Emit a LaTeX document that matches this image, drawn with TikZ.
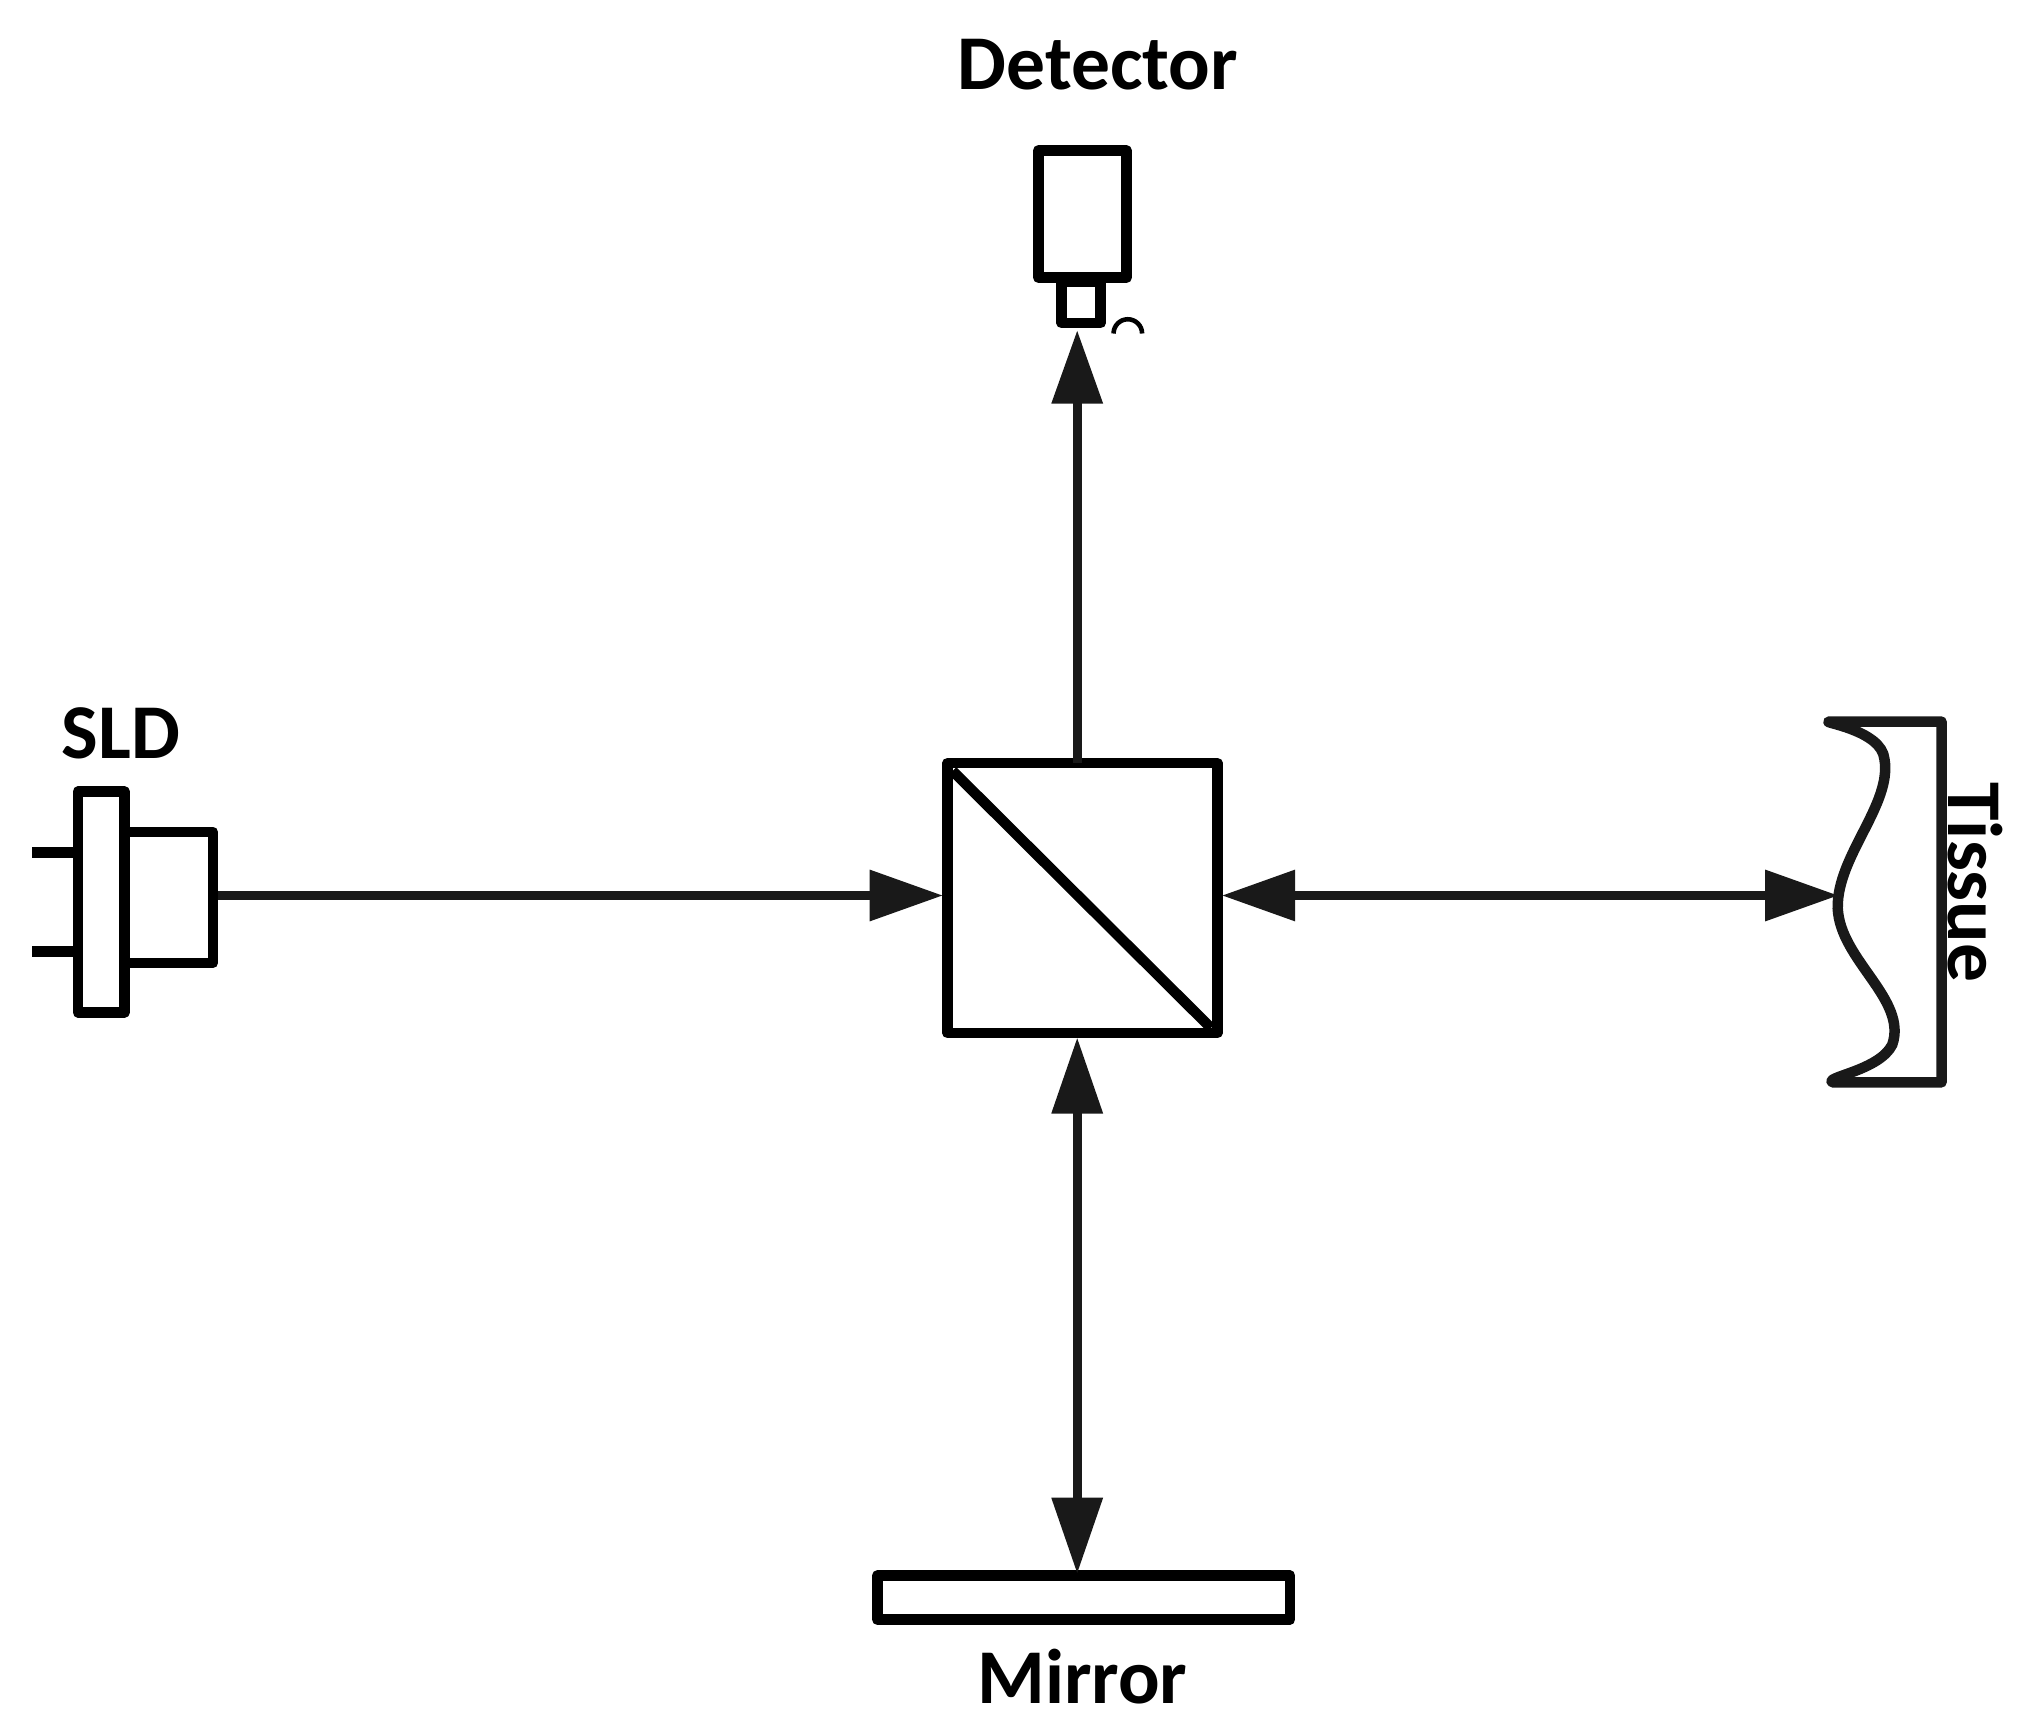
\documentclass[tikz,border=0pt]{standalone}
\usepackage{fontspec}
\setmainfont{Carlito}
\begin{document}
\begin{tikzpicture}[x=0.1mm,y=-0.1mm,
  part/.style={line width=2.3pt, draw=black, line join=round},
  beam/.style={line width=2pt, draw=black!90},
  head/.style={fill=black!90},
  lbl/.style={font=\bfseries\fontsize{17}{20}\selectfont}]
\useasboundingbox (0,0) rectangle (1568,1330);
% beam splitter
\node[part, minimum width=208*0.1mm, minimum height=208*0.1mm, inner sep=0] (bs) at (834,692) {};
\draw[part] (734,594) -- (933,792);
% detector
\node[part, minimum width=68*0.1mm, minimum height=98*0.1mm, inner sep=0] (det) at (834,165) {};
\node[part, minimum width=30*0.1mm, minimum height=32*0.1mm, inner sep=0] (detw) at (833,233) {};
\draw[line width=1pt] (858,257) arc[start angle=180, end angle=360, radius=11];
\node[lbl] (detl) at (846,50) {Detector};
% SLD
\node[part, minimum width=36*0.1mm, minimum height=170*0.1mm, inner sep=0] (sld) at (78,695) {};
\coordinate (s1) at (96,641);
\draw[part] (s1) -- (164,641) -- (164,742) -- (96,742);
\draw[part] (25,657) -- (60,657);
\draw[part] (25,733) -- (60,733);
\node[lbl] (sldl) at (93,565) {SLD};
% mirror
\node[part, minimum width=318*0.1mm, minimum height=34*0.1mm, inner sep=0] (mir) at (835,1231) {};
\node[lbl] (mirl) at (834,1292) {Mirror};
% tissue
\coordinate (t0) at (1410,556);
\draw[part, draw=black!90] (t0) .. controls (1400,556) and (1450,562) .. (1452,585)
  .. controls (1458,620) and (1415,660) .. (1416,700)
  .. controls (1418,740) and (1470,770) .. (1458,805)
  .. controls (1448,825) and (1405,830) .. (1412,834)
  -- (1496,834) -- (1496,556) -- cycle;
\coordinate (ttip) at (1416,690);
\node[lbl, rotate=-90] (tisl) at (1522,680) {Tissue};
% beams
\coordinate (sldout) at (168,690);
\coordinate (bsl) at (726,690);
\draw[beam] (sldout) -- (700,690);
\fill[head] (bsl) -- (670,670) -- (670,710) -- cycle;
\coordinate (bsr) at (942,690);
\draw[beam] (960,690) -- (1390,690);
\fill[head] (bsr) -- (998,670) -- (998,710) -- cycle;
\fill[head] (ttip) -- (1360,670) -- (1360,710) -- cycle;
\coordinate (bst) at (830,588);
\coordinate (dett) at (830,255);
\draw[beam] (bst) -- (830,290);
\fill[head] (dett) -- (810,311) -- (850,311) -- cycle;
\coordinate (bsb) at (830,800);
\coordinate (mirt) at (830,1212);
\draw[beam] (830,830) -- (830,1180);
\fill[head] (bsb) -- (810,858) -- (850,858) -- cycle;
\fill[head] (mirt) -- (810,1154) -- (850,1154) -- cycle;
\end{tikzpicture}
\end{document}
